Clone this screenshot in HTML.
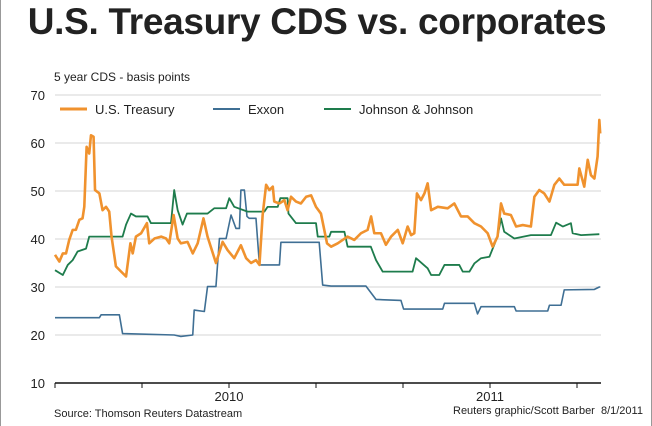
<!DOCTYPE html>
<html><head><meta charset="utf-8"><style>
body{margin:0;background:#fff;}
#wrap{position:relative;width:652px;height:426px;overflow:hidden;font-family:"Liberation Sans",sans-serif;border-left:1px solid #999;border-right:1px solid #999;box-sizing:border-box;}
#title{position:absolute;left:-10px;width:652px;top:1px;text-align:center;font-size:37px;font-weight:bold;color:#222;letter-spacing:-0.3px;}
#sub{position:absolute;left:53px;top:70px;font-size:12px;color:#222;}
.note{position:absolute;font-size:11px;color:#222;}
</style></head><body>
<div id="wrap">
<div id="title">U.S. Treasury CDS vs. corporates</div>
<div id="sub">5 year CDS - basis points</div>
<div class="note" style="left:53px;top:408px">Source: Thomson Reuters Datastream</div>
<div class="note" style="left:452px;top:405px">Reuters graphic/Scott Barber&nbsp; 8/1/2011</div>
<svg id="chart" width="652" height="426" style="position:absolute;left:0;top:0"></svg>
</div>
<script>
const yTicks=[10,20,30,40,50,60,70];
const xTickMonths=[0,3,6,9,12,15,18];
const xLabels=["2010","2011"];
const xLabelMonths=[6,15];
const tsyT=[0,0.15,0.27,0.38,0.49,0.61,0.72,0.84,0.95,1.01,1.09,1.18,1.24,1.33,1.38,1.53,1.64,1.76,1.87,1.95,2.10,2.28,2.45,2.60,2.68,2.79,2.97,3.17,3.25,3.43,3.66,3.83,3.94,4.09,4.23,4.34,4.57,4.75,4.92,5.12,5.26,5.55,5.78,5.95,6.18,6.41,6.59,6.76,6.93,7.05,7.16,7.28,7.39,7.51,7.56,7.74,7.91,8.02,8.14,8.31,8.48,8.66,8.83,9.0,9.17,9.38,9.52,9.75,10.09,10.32,10.55,10.78,10.90,11.01,11.24,11.41,11.59,11.82,11.99,12.16,12.28,12.39,12.48,12.62,12.74,12.85,12.97,13.2,13.54,13.77,14.0,14.23,14.46,14.69,14.92,15.09,15.26,15.38,15.49,15.72,15.9,16.13,16.41,16.53,16.7,16.87,17.05,17.22,17.39,17.56,17.79,18.02,18.08,18.25,18.37,18.48,18.6,18.71,18.77,18.8];
const tsyV=[36.7,35.3,37,37,39.8,41.9,41.9,44,44.3,46.7,59.2,57.8,61.6,61.3,50.2,49.5,46,46.7,45.7,40.5,34.3,33.2,32.2,39.1,37,40.5,41.2,43.3,39.1,40.1,40.5,40.1,39.1,45,40.1,39.1,39.4,37,39.1,44.3,40.5,35,39.4,37.7,36,38.7,36,35,35.6,34.6,45,51.3,50.2,50.9,47.8,47.4,48.1,46,48.8,47.8,47.4,48.8,49.1,46.7,45.3,39.1,38.4,39.1,40.5,39.8,41.2,41.9,44.7,41.2,41.2,38.8,40.5,41.9,39.1,42.6,40.8,41.2,49.5,48.1,49.5,51.6,46,46.7,46.4,47.4,44.7,44.7,43.3,42.6,41.2,38.4,40.5,47.4,45.3,45,42.6,42.9,42.6,48.8,50.2,49.5,47.8,51.3,52.6,51.3,51.3,51.3,54.7,50.9,56.5,53.3,52.6,57.2,64.8,62];
const xomT=[0,1.53,1.59,2.22,2.33,4.11,4.34,4.75,4.80,5.15,5.26,5.55,5.67,5.90,6.07,6.24,6.36,6.41,6.53,6.62,6.70,6.93,7.05,7.74,7.79,9.11,9.23,9.52,10.72,11.07,11.93,12.02,13.37,13.43,14.46,14.57,14.69,15.84,15.9,16.99,17.05,17.45,17.56,18.6,18.77,18.8];
const xomV=[23.6,23.6,24.2,24.2,20.3,20,19.7,20,25.2,24.9,30.1,30.1,40.1,40.1,45,42.2,42.2,50.2,50.2,44.7,44.3,44.3,34.6,34.6,39.3,39.3,30.4,30.2,30.2,27.4,27.2,25.4,25.4,26.6,26.6,24.4,25.9,25.9,25,25,26.2,26.2,29.4,29.5,30,30];
const jnjT=[0,0.27,0.44,0.61,0.78,1.07,1.18,2.33,2.45,2.62,2.79,3.19,3.31,4.0,4.11,4.23,4.40,4.55,5.26,5.49,5.90,6.01,6.18,6.64,7.22,7.33,7.68,7.77,8.02,8.05,8.31,9.0,9.06,9.46,9.52,9.98,10.09,10.89,11.07,11.30,12.33,12.45,12.85,12.97,13.25,13.43,13.94,14.06,14.29,14.46,14.69,14.98,15.26,15.38,15.49,15.84,16.41,17.1,17.28,17.51,17.79,17.85,18.14,18.77];
const jnjV=[33.5,32.5,34.6,35.6,37.4,38,40.5,40.5,43,45.3,44.7,44.7,43.3,43.3,50.2,46,43,45.3,45.3,46.4,46.4,48.5,46.7,45.7,45.7,46.7,46.7,48.5,48.5,45.3,43.3,43.3,40.5,40.5,41.5,41.5,38.4,38.4,35.6,33.2,33.2,36,33.9,32.5,32.5,34.6,34.6,33.2,33.2,34.9,36,36.3,40.5,44.3,41.5,40.1,40.8,40.8,43.4,42.6,43.3,41.2,40.8,41];
const NS="http://www.w3.org/2000/svg";
const svg=document.getElementById('chart');
const x0=54,x1=600;
function xs(t){return 54+t*29;}
function ys(v){return 239-(v-40)*4.8;}
function mk(tag,at){const e=document.createElementNS(NS,tag);for(const k in at)e.setAttribute(k,at[k]);svg.appendChild(e);return e;}
yTicks.forEach(v=>{
 if(v>10){const g=mk('line',{x1:x0,x2:x1,y1:ys(v),y2:ys(v),stroke:'#d4d4d4','stroke-width':1});
 
 }
 const t=mk('text',{x:44,y:ys(v)+5,'text-anchor':'end','font-size':13,fill:'#222','font-family':'Liberation Sans, sans-serif'});
 t.textContent=v;
 
 
});
const ax=mk('line',{x1:x0,x2:x1,y1:ys(10),y2:ys(10),stroke:'#111','stroke-width':1.5});


xTickMonths.forEach(m=>{const l=mk('line',{x1:xs(m),x2:xs(m),y1:ys(10),y2:ys(10)+5,stroke:'#111','stroke-width':1});
 
 });
xLabels.forEach((s,i)=>{const t=mk('text',{x:xs(xLabelMonths[i]),y:401,'text-anchor':'middle','font-size':13,fill:'#222','font-family':'Liberation Sans, sans-serif'});
 t.textContent=s;
 
 });
function series(T,V,col,w,name){
 const p=mk('polyline',{points:T.map((t,i)=>xs(t)+','+ys(V[i])).join(' '),fill:'none',stroke:col,'stroke-width':w,'stroke-linejoin':'round'});
 
 
}
series(xomT,xomV,'#3f6f94',1.6,'exxon-line');
series(jnjT,jnjV,'#1e7c4c',1.8,'jnj-line');
series(tsyT,tsyV,'#f0922e',2.6,'treasury-line');
const leg=[['U.S. Treasury','#f0922e',59,3],['Exxon','#3f6f94',212,2],['Johnson & Johnson','#1e7c4c',323,2]];
leg.forEach(l=>{
 const ln=mk('line',{x1:l[2],x2:l[2]+27,y1:109,y2:109,stroke:l[1],'stroke-width':l[3]});
 
 
 const t=mk('text',{x:l[2]+35,y:114,'font-size':13,fill:'#222','font-family':'Liberation Sans, sans-serif'});
 t.textContent=l[0];
 
 
});
</script>
</body></html>
